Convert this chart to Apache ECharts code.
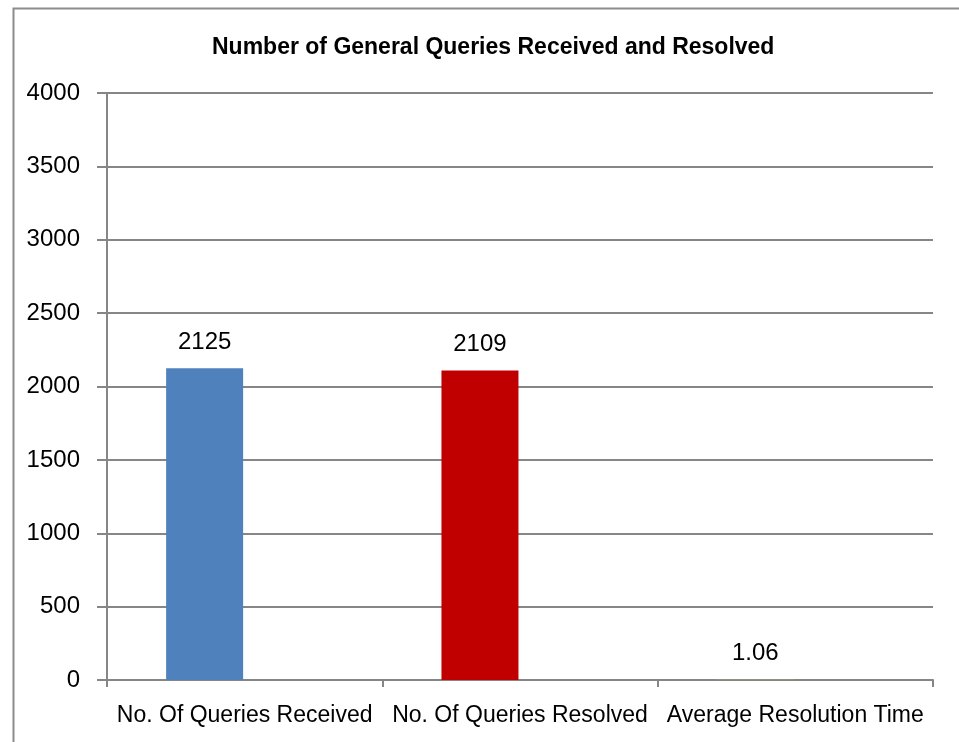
<!DOCTYPE html>
<html>
<head>
<meta charset="utf-8">
<script src="https://cdn.jsdelivr.net/npm/echarts@6/dist/echarts.min.js"></script>
<style>html,body{margin:0;padding:0;background:#fff}#c{width:959px;height:742px}</style>
</head>
<body>
<div id="c"></div>
<script>
const categories = ['No. Of Queries Received', 'No. Of Queries Resolved', 'Average Resolution Time'];
const values = [2125, 2109, 1.06];
const barColors = ['#4F81BD', '#C00000', '#9BBB59'];
const yTicks = { min: 0, max: 4000, interval: 500 };
const titleText = 'Number of General Queries Received and Resolved';

const font = 'Liberation Sans';
const chart = echarts.init(document.getElementById('c'), null, { renderer: 'canvas' });
chart.setOption({
  animation: false,
  backgroundColor: '#fff',
  title: {
    text: titleText, left: 207, top: 31,
    textStyle: { fontFamily: font, fontWeight: 'bold', fontSize: 23, color: '#000' }
  },
  graphic: [{
    type: 'rect', left: 11, top: 6, shape: { width: 1000, height: 800 },
    style: { fill: 'none', stroke: '#8c8c8c', lineWidth: 2 }
  }],
  grid: { left: 107, right: 26, top: 93, bottom: 62 },
  xAxis: {
    type: 'category', data: categories,
    axisLine: { lineStyle: { color: '#868686', width: 2 } },
    axisTick: { show: true, length: 7, lineStyle: { color: '#868686', width: 2 } },
    axisLabel: { color: '#000', fontFamily: font, fontSize: 23, margin: 24, interval: 0 }
  },
  yAxis: {
    type: 'value', min: yTicks.min, max: yTicks.max, interval: yTicks.interval,
    axisLine: { show: true, lineStyle: { color: '#868686', width: 2 } },
    axisTick: { show: true, length: 10, inside: false, lineStyle: { color: '#868686', width: 2 } },
    splitLine: { lineStyle: { color: '#868686', width: 2 } },
    axisLabel: { color: '#000', fontFamily: font, fontSize: 24, margin: 27, formatter: v => String(v) }
  },
  series: [{
    type: 'bar', barWidth: 77, barGap: '4%',
    data: values.map((v, i) => ({ value: v, itemStyle: { color: barColors[i] } })),
    label: { show: true, position: 'top', distance: 14, color: '#000', fontFamily: font, fontSize: 24 }
  }, {
    type: 'bar', barWidth: 77, barGap: '4%',
    data: values.map(() => null)
  }]
});
</script>
</body>
</html>
